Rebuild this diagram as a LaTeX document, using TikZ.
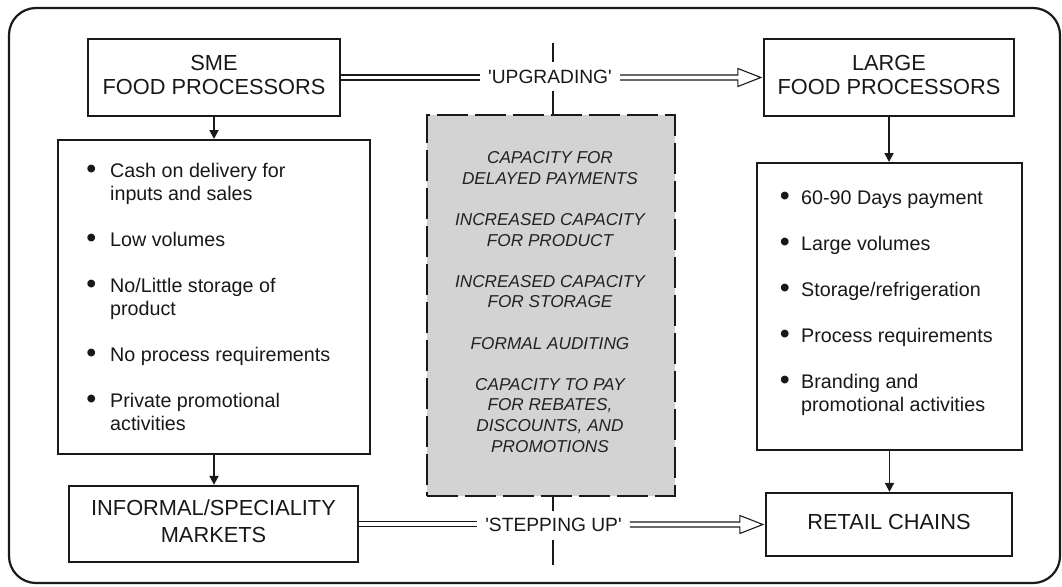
\documentclass[tikz,border=0pt]{standalone}
\usepackage{fontspec}
\setmainfont{Liberation Sans}
\newfontfamily\arf{Liberation Sans}
\usetikzlibrary{arrows.meta,calc}
\definecolor{ink}{HTML}{1A1A1A}
\definecolor{txt}{HTML}{181818}
\definecolor{grayfill}{HTML}{D3D3D3}
\definecolor{graytxt}{HTML}{222222}
\newcommand{\bul}[1]{\makebox[#1][l]{\hspace*{-0.8pt}\raisebox{-1.2pt}{\scalebox{1.45}{\textbullet}}}}
\begin{document}
\begin{tikzpicture}[x=1pt,y=-1pt,
  box/.style={draw=ink, line width=2.3pt, inner sep=0pt, text=txt, font=\arf\fontsize{21.8}{24}\selectfont},
  listbox/.style={draw=ink, line width=2pt, inner sep=0pt},
  listtext/.style={inner sep=0pt, anchor=base west, text=txt, font=\arf\fontsize{19.7}{23}\selectfont},
  darrow/.style={draw=ink, line width=1.8pt, -{Triangle[length=9pt,width=9pt]}},
  dbl/.style={draw=ink, line width=1.1pt},
  lab/.style={inner xsep=8pt, inner ysep=7.5pt, text=txt, font=\arf\fontsize{19.2}{23}\selectfont},
  capbox/.style={draw=ink, line width=2.6pt, dash pattern=on 31pt off 7pt, fill=grayfill, inner sep=0pt},
  vline/.style={draw=ink, line width=2.6pt},
]
\useasboundingbox (0,0) rectangle (1062,586);
\draw[ink, line width=2.2pt, rounded corners=27pt] (9,8) rectangle (1060,583);

% main boxes
\node[box, minimum width=252pt, minimum height=77pt] (sme) at (214,77.5)
  {\begin{tabular}{@{}c@{}}SME\\FOOD PROCESSORS\end{tabular}};
\node[box, minimum width=250pt, minimum height=77pt] (large) at (889,77.5)
  {\begin{tabular}{@{}c@{}}LARGE\\FOOD PROCESSORS\end{tabular}};
\node[box, minimum width=289pt, minimum height=76pt, font=\arf\fontsize{21.8}{26.7}\selectfont] (informal) at (213.5,524)
  {\begin{tabular}{@{}c@{}}INFORMAL/SPECIALITY\\MARKETS\end{tabular}};
\node[box, minimum width=246pt, minimum height=63pt] (retail) at (889,524.5)
  {\begin{tabular}{@{}c@{}}RETAIL CHAINS\end{tabular}};

% list boxes
\node[listbox, minimum width=312pt, minimum height=314pt] (sl) at (214,297) {};
\node[listbox, minimum width=265pt, minimum height=287pt] (ll) at (889.5,306.5) {};
\node[capbox, minimum width=248pt, minimum height=381pt] (gap) at (551,305.5) {};

\node[listtext] (slt) at ($(sl.north west)+(30,38)$) {\begin{tabular}[t]{@{}l@{}}
\bul{23pt}Cash on delivery for\\
\hspace*{23pt}inputs and sales\\[23pt]
\bul{23pt}Low volumes\\[23pt]
\bul{23pt}No/Little storage of\\
\hspace*{23pt}product\\[23pt]
\bul{23pt}No process requirements\\[23pt]
\bul{23pt}Private promotional\\
\hspace*{23pt}activities
\end{tabular}};

\node[listtext] (llt) at ($(ll.north west)+(24.5,42)$) {\begin{tabular}[t]{@{}l@{}}
\bul{20.5pt}60-90 Days payment\\[23pt]
\bul{20.5pt}Large volumes\\[23pt]
\bul{20.5pt}Storage/refrigeration\\[23pt]
\bul{20.5pt}Process requirements\\[23pt]
\bul{20.5pt}Branding and\\
\hspace*{20.5pt}promotional activities
\end{tabular}};

\node[inner sep=0pt, anchor=base, text=graytxt, font=\arf\itshape\fontsize{17.2}{20.6}\selectfont] (capt)
  at ($(gap.north)+(-1,50)$) {\begin{tabular}[t]{@{}c@{}}
CAPACITY FOR\\
DELAYED PAYMENTS\\[20.6pt]
INCREASED CAPACITY\\
FOR PRODUCT\\[20.6pt]
INCREASED CAPACITY\\
FOR STORAGE\\[20.6pt]
FORMAL AUDITING\\[20.6pt]
CAPACITY TO PAY\\
FOR REBATES,\\
DISCOUNTS, AND\\
PROMOTIONS
\end{tabular}};

% vertical arrows
\draw[darrow] (sme.south) -- (sme.south |- sl.north);
\draw[darrow] (sl.south) -- (sl.south |- informal.north);
\draw[darrow] (large.south) -- (large.south |- ll.north);
\draw[darrow] (ll.south) -- (ll.south |- retail.north);

% labels
\node[lab] (lupg) at (550,76.5) {'UPGRADING'};
\node[lab] (lstp) at (553.5,525) {'STEPPING UP'};

% double line arrows
\draw[dbl] ($(sme.east)+(0,-2.5)$) -- ($(lupg.west |- sme.east)+(0,-2.5)$);
\draw[dbl] ($(sme.east)+(0,2.5)$) -- ($(lupg.west |- sme.east)+(0,2.5)$);
\coordinate (ta) at ($(large.west)+(-2,0)$);
\draw[dbl, fill=white] ($(lupg.east |- ta)+(0,-2.5)$) -- ($(ta)+(-23,-2.5)$) -- ($(ta)+(-23,-9)$) -- (ta)
  -- ($(ta)+(-23,9)$) -- ($(ta)+(-23,2.5)$) -- ($(lupg.east |- ta)+(0,2.5)$);

\draw[dbl] ($(informal.east)+(0,-2.5)$) -- ($(lstp.west |- informal.east)+(0,-2.5)$);
\draw[dbl] ($(informal.east)+(0,2.5)$) -- ($(lstp.west |- informal.east)+(0,2.5)$);
\coordinate (tb) at ($(retail.west)+(-2,0)$);
\draw[dbl, fill=white] ($(lstp.east |- tb)+(0,-2.5)$) -- ($(tb)+(-23,-2.5)$) -- ($(tb)+(-23,-9)$) -- (tb)
  -- ($(tb)+(-23,9)$) -- ($(tb)+(-23,2.5)$) -- ($(lstp.east |- tb)+(0,2.5)$);

% vertical divider
\coordinate (vt) at (553,43);
\coordinate (vb) at (553,565);
\draw[vline] (vt) -- (vt |- lupg.north);
\draw[vline] (vt |- lupg.south) -- (vt |- gap.north);
\draw[vline] (vt |- gap.south) -- (vt |- lstp.north);
\draw[vline] (vt |- lstp.south) -- (vb);
\end{tikzpicture}
\end{document}
